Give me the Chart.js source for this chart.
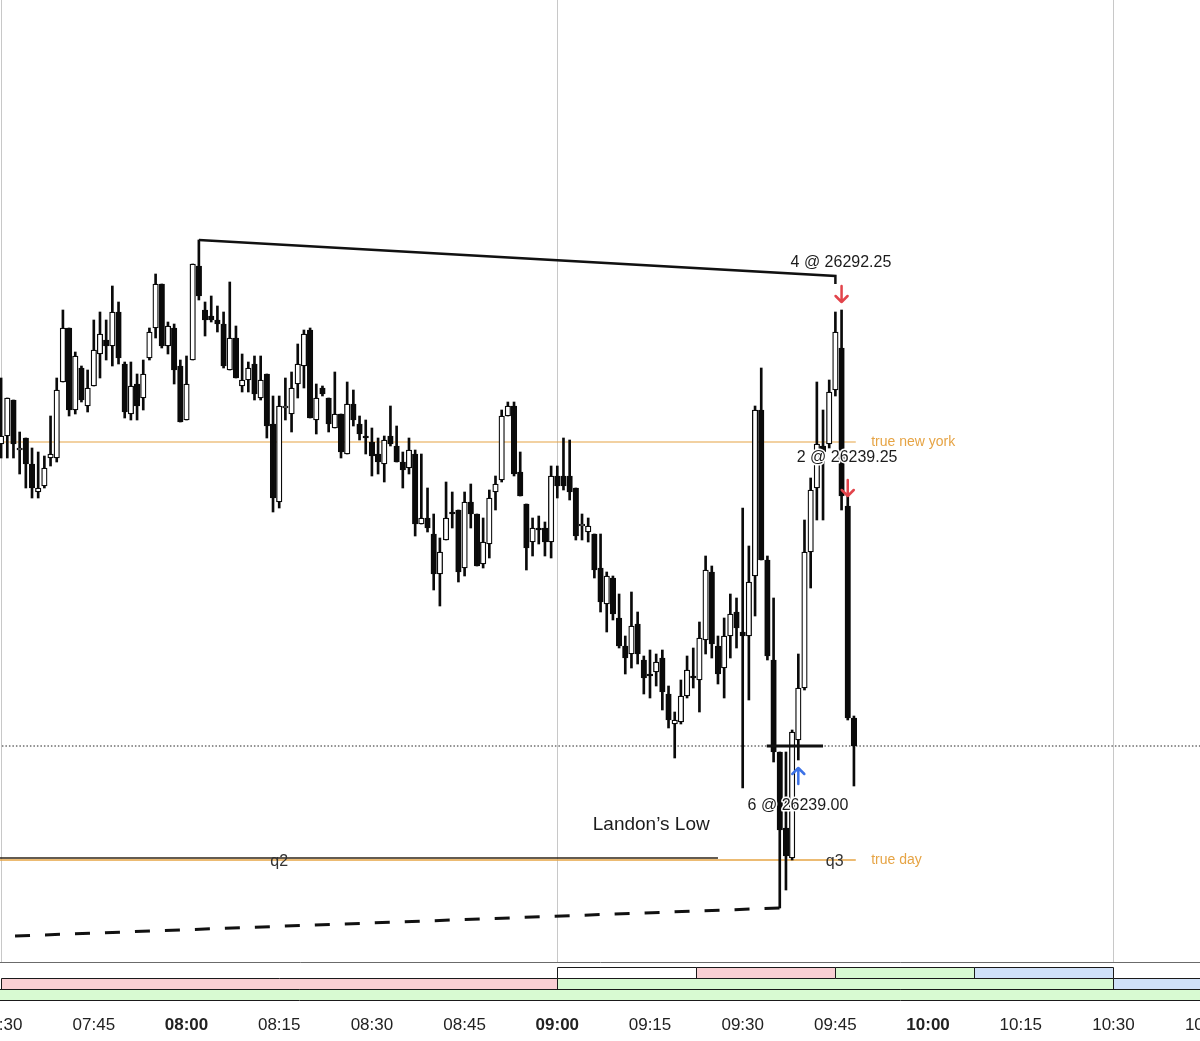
<!DOCTYPE html>
<html>
<head>
<meta charset="utf-8">
<script src="https://cdn.jsdelivr.net/npm/chart.js@4.4.1/dist/chart.umd.min.js"></script>
<style>
  html, body { margin: 0; padding: 0; background: #fff; }
  canvas { display: block; }
</style>
</head>
<body>
<canvas id="chart" width="1200" height="1041"></canvas>
<script>
// 1-minute candles, first one at 07:30 (x value = minutes after 07:30)
const startMinute = 7 * 60 + 30;

const opens = [
  26275.75, 26276.75, 26281.25, 26275.00, 26276.50, 26273.25, 26269.75, 26270.50, 26274.00, 26274.00,
  26283.50, 26290.25, 26280.00, 26285.25, 26280.50, 26283.00, 26287.00, 26288.75, 26288.00, 26292.25,
  26285.75, 26279.50, 26283.25, 26281.50, 26286.50, 26290.25, 26295.75, 26288.00, 26290.25, 26285.50,
  26278.75, 26286.25, 26298.00, 26292.50, 26291.75, 26291.25, 26290.75, 26285.00, 26289.00, 26283.00,
  26283.75, 26285.75, 26281.50, 26284.50, 26278.25, 26268.50, 26280.25, 26279.50, 26283.25, 26285.50,
  26290.00, 26278.75, 26282.75, 26281.50, 26277.75, 26279.50, 26274.50, 26280.75, 26278.25, 26276.75,
  26276.00, 26274.50, 26273.25, 26276.75, 26275.50, 26273.50, 26272.75, 26274.50, 26265.75, 26266.50,
  26264.50, 26259.50, 26263.75, 26267.25, 26267.50, 26260.25, 26268.50, 26267.00, 26260.75, 26263.25,
  26269.75, 26271.25, 26279.25, 26280.50, 26272.25, 26268.25, 26263.50, 26265.25, 26265.25, 26263.50,
  26271.75, 26271.75, 26271.75, 26270.25, 26265.50, 26264.75, 26264.50, 26260.25, 26255.75, 26259.00,
  26254.00, 26250.50, 26249.50, 26253.25, 26248.75, 26247.00, 26247.25, 26249.00, 26244.50, 26240.75,
  26241.00, 26244.25, 26246.75, 26246.25, 26251.25, 26259.75, 26250.50, 26247.75, 26251.75, 26254.75,
  26252.25, 26251.75, 26259.25, 26280.00, 26261.25, 26248.75, 26237.25, 26227.75, 26224.00, 26238.75,
  26245.25, 26262.25, 26270.25, 26275.50, 26275.75, 26282.50, 26287.75, 26268.00, 26241.50
];
const highs = [
  26284.00, 26281.50, 26281.25, 26277.25, 26276.50, 26275.25, 26274.75, 26274.25, 26279.25, 26284.00,
  26292.50, 26290.25, 26287.25, 26285.50, 26285.00, 26291.25, 26292.25, 26291.25, 26295.50, 26293.50,
  26286.00, 26286.00, 26284.50, 26286.25, 26290.25, 26297.00, 26295.75, 26291.00, 26290.75, 26286.25,
  26286.75, 26298.25, 26301.25, 26293.50, 26294.25, 26293.00, 26292.25, 26296.00, 26290.50, 26287.00,
  26286.00, 26286.75, 26286.75, 26284.50, 26281.75, 26281.75, 26284.00, 26284.75, 26288.25, 26290.00,
  26290.25, 26283.25, 26283.00, 26281.50, 26284.75, 26279.50, 26283.50, 26282.50, 26279.25, 26278.75,
  26277.75, 26276.50, 26276.75, 26280.50, 26278.00, 26274.75, 26276.50, 26275.00, 26274.50, 26270.25,
  26267.00, 26264.00, 26271.00, 26269.75, 26267.50, 26269.75, 26270.75, 26267.00, 26266.50, 26270.00,
  26271.75, 26280.00, 26281.00, 26281.00, 26274.75, 26268.25, 26266.50, 26266.75, 26266.00, 26273.00,
  26273.00, 26276.50, 26276.25, 26270.25, 26267.00, 26266.50, 26264.50, 26264.50, 26259.75, 26259.25,
  26257.00, 26251.75, 26257.25, 26254.75, 26249.25, 26250.00, 26249.50, 26250.00, 26245.50, 26242.25,
  26246.25, 26249.25, 26250.25, 26253.50, 26261.75, 26260.50, 26251.75, 26254.00, 26257.00, 26256.50,
  26267.75, 26263.00, 26280.50, 26285.25, 26261.75, 26256.50, 26237.25, 26237.25, 26240.00, 26249.50,
  26266.25, 26271.50, 26283.50, 26280.00, 26283.75, 26292.25, 26292.50, 26269.25, 26241.75
];
const lows = [
  26274.00, 26274.00, 26274.00, 26272.00, 26270.25, 26269.00, 26269.00, 26270.25, 26273.00, 26273.50,
  26283.50, 26279.25, 26279.50, 26281.00, 26279.75, 26283.00, 26284.00, 26286.25, 26285.50, 26285.75,
  26279.00, 26278.75, 26278.75, 26280.00, 26286.25, 26289.00, 26287.75, 26287.00, 26283.25, 26278.50,
  26278.75, 26286.25, 26293.75, 26289.25, 26291.00, 26289.75, 26285.25, 26285.00, 26284.00, 26282.25,
  26282.25, 26281.25, 26281.25, 26276.50, 26267.25, 26267.75, 26278.75, 26277.25, 26281.50, 26282.75,
  26279.00, 26277.00, 26281.75, 26277.25, 26277.75, 26274.00, 26274.50, 26278.00, 26276.25, 26274.50,
  26271.75, 26272.00, 26271.00, 26275.50, 26273.50, 26270.25, 26272.00, 26264.25, 26265.75, 26264.75,
  26257.50, 26255.50, 26263.75, 26265.25, 26258.50, 26259.25, 26265.25, 26260.50, 26260.25, 26261.50,
  26267.50, 26271.00, 26279.25, 26271.75, 26269.25, 26260.00, 26261.75, 26263.25, 26261.75, 26261.50,
  26269.00, 26270.00, 26268.75, 26263.75, 26263.75, 26263.50, 26259.00, 26254.75, 26252.25, 26253.75,
  26250.25, 26247.00, 26247.75, 26248.25, 26244.50, 26244.00, 26245.50, 26242.50, 26240.25, 26236.50,
  26240.75, 26244.00, 26245.25, 26242.25, 26249.50, 26249.00, 26245.75, 26244.00, 26249.00, 26250.25,
  26232.75, 26243.75, 26254.25, 26261.25, 26248.75, 26236.00, 26217.75, 26220.00, 26223.75, 26236.25,
  26245.00, 26257.75, 26266.25, 26266.25, 26275.25, 26281.75, 26267.50, 26241.25, 26233.00
];
const closes = [
  26276.75, 26281.50, 26275.75, 26275.25, 26273.25, 26270.25, 26270.25, 26272.75, 26274.50, 26282.50,
  26290.25, 26280.00, 26286.75, 26281.25, 26282.75, 26287.50, 26289.50, 26288.00, 26292.25, 26286.50,
  26279.75, 26283.00, 26280.50, 26284.50, 26289.75, 26295.75, 26288.00, 26290.50, 26285.00, 26278.50,
  26283.25, 26298.25, 26294.25, 26291.25, 26291.25, 26290.75, 26285.50, 26289.00, 26284.00, 26283.75,
  26285.25, 26282.00, 26283.75, 26278.00, 26269.00, 26280.50, 26280.50, 26282.75, 26285.75, 26289.50,
  26279.00, 26281.50, 26282.00, 26278.25, 26279.50, 26274.75, 26280.75, 26278.75, 26277.00, 26276.50,
  26274.25, 26273.50, 26276.25, 26275.75, 26273.50, 26272.50, 26275.00, 26265.75, 26266.50, 26265.25,
  26259.50, 26262.25, 26266.50, 26267.00, 26259.75, 26268.50, 26267.00, 26260.50, 26263.50, 26269.00,
  26270.75, 26279.25, 26280.50, 26272.00, 26269.25, 26262.75, 26265.25, 26265.00, 26263.50, 26271.75,
  26270.50, 26270.50, 26269.75, 26264.25, 26265.75, 26265.50, 26260.00, 26256.00, 26259.25, 26254.50,
  26250.50, 26249.00, 26253.00, 26249.50, 26246.50, 26246.75, 26248.50, 26244.75, 26241.25, 26241.25,
  26244.25, 26247.50, 26246.50, 26251.50, 26260.00, 26250.75, 26247.00, 26251.75, 26254.50, 26252.75,
  26251.75, 26258.50, 26280.00, 26261.25, 26249.25, 26237.25, 26227.50, 26224.25, 26239.75, 26245.25,
  26262.25, 26270.00, 26275.75, 26274.75, 26282.25, 26289.75, 26269.25, 26241.50, 26238.00
];

// axis ticks, every 15 minutes (minutes after 07:30)
const tickMinutes = [0, 15, 30, 45, 60, 75, 90, 105, 120, 135, 150, 165, 180, 195];

// drawn levels
const trueNewYork = 26276.00;
const trueDay = 26223.75;
const q2Level = 26224.00;
const lastPrice = 26238.00;
const trendTimes = [32, 135, 135];
const trendPrices = [26301.25, 26296.75, 26295.75];
const lowLinkTimes = [2.25, 126];
const lowLinkPrices = [26214.25, 26217.75];

// trade marks
const fills = [
  { t: 136, p: 26294.50, dir: 1, color: '#e2444b' },
  { t: 137, p: 26270.25, dir: 1, color: '#e2444b' },
  { t: 129, p: 26234.25, dir: -1, color: '#3d72e6' }
];

// session / quarter strips under the plot (minutes after 07:30)
const PINK = '#f9cfd3', GREEN = '#d8fad2', BLUE = '#d0e1f8', WHITE = '#ffffff';
const quarterRow = [[90, 112.5, WHITE], [112.5, 135, PINK], [135, 157.5, GREEN], [157.5, 180, BLUE]];
const cycleRow = [[0, 90, PINK], [90, 180, GREEN], [180, 270, BLUE]];
const dayRow = [[-90, 270, GREEN]];

const xMin = -0.18, xMax = 194.0;
const priceMax = 26331.25, priceMin = 26211.0;
const ORANGE = '#e6a445';
const FONT = "'Liberation Sans', 'Helvetica Neue', Arial, sans-serif";

function fmtTime(v) {
  const t = startMinute + v;
  return String(Math.floor(t / 60)).padStart(2, '0') + ':' + String(t % 60).padStart(2, '0');
}

const idx = opens.map((_, i) => i);
const wicks = idx.map(i => ({ x: i, y: [lows[i], highs[i]] }));
const bodies = idx.map(i => ({ x: i, y: [opens[i], closes[i]] }));
const bodyFill = idx.map(i => closes[i] >= opens[i] ? '#ffffff' : '#0a0a0a');

function flat(price, from, to) {
  return [{ x: from, y: price }, { x: to, y: price }];
}

function textAt(ctx, txt, px, py, size, color, align, halo) {
  ctx.font = size + 'px ' + FONT;
  ctx.textAlign = align;
  ctx.textBaseline = 'middle';
  if (halo) {
    ctx.lineWidth = 3;
    ctx.lineJoin = 'round';
    ctx.strokeStyle = '#ffffff';
    ctx.strokeText(txt, px, py);
  }
  ctx.fillStyle = color;
  ctx.fillText(txt, px, py);
}

function drawArrow(ctx, px, py, dir, color) {
  const h = 8, w = 6;
  ctx.save();
  ctx.strokeStyle = color;
  ctx.lineWidth = 2.5;
  ctx.lineCap = 'round';
  ctx.lineJoin = 'round';
  ctx.beginPath();
  ctx.moveTo(px, py - dir * h);
  ctx.lineTo(px, py + dir * h);
  ctx.moveTo(px - w, py + dir * (h - w));
  ctx.lineTo(px, py + dir * h);
  ctx.lineTo(px + w, py + dir * (h - w));
  ctx.stroke();
  ctx.restore();
}

const overlay = {
  id: 'overlay',
  afterDatasetsDraw(chart) {
    const ctx = chart.ctx;
    const x = chart.scales.x, y = chart.scales.y;
    const X = t => x.getPixelForValue(t), Y = p => y.getPixelForValue(p);

    fills.forEach(f => drawArrow(ctx, X(f.t), Y(f.p), f.dir, f.color));

    textAt(ctx, '4 @ 26292.25', X(135.9), Y(26298.375), 16, '#1c1c1c', 'center', true);
    textAt(ctx, '2 @ 26239.25', X(136.9), Y(26274.0), 16, '#1c1c1c', 'center', true);
    textAt(ctx, '6 @ 26239.00', X(128.95), Y(26230.5), 16, '#1c1c1c', 'center', true);
    textAt(ctx, 'Landon\u2019s Low', X(105.2), Y(26228.125), 19, '#1c1c1c', 'center', false);
    textAt(ctx, 'q2', X(45), Y(26223.5), 16, '#333333', 'center', false);
    textAt(ctx, 'q3', X(134.9), Y(26223.5), 16, '#333333', 'center', false);
    textAt(ctx, 'true new york', X(140.8), Y(trueNewYork), 14, ORANGE, 'left', false);
    textAt(ctx, 'true day', X(140.8), Y(trueDay), 14, ORANGE, 'left', false);
  },
  afterDraw(chart) {
    const ctx = chart.ctx;
    const x = chart.scales.x;
    const top = chart.chartArea.bottom + 5;
    const rowH = 11;
    ctx.save();
    ctx.strokeStyle = '#1a1a1a';
    ctx.lineWidth = 1;
    [quarterRow, cycleRow, dayRow].forEach((row, r) => {
      const y0 = Math.round(top + r * rowH) + 0.5;
      row.forEach(([a, b, color]) => {
        const xa = Math.round(x.getPixelForValue(a)) + 0.5;
        const xb = Math.round(x.getPixelForValue(b)) + 0.5;
        ctx.fillStyle = color;
        ctx.fillRect(xa, y0, xb - xa, rowH);
        ctx.strokeRect(xa, y0, xb - xa, rowH);
      });
    });
    ctx.restore();
  }
};

new Chart(document.getElementById('chart'), {
  type: 'bar',
  data: {
    datasets: [
      {
        type: 'line', data: flat(trueNewYork, -1, 138.3), borderColor: ORANGE,
        borderWidth: 1.2, pointRadius: 0, order: 20
      },
      {
        type: 'line', data: flat(trueDay, -1, 138.3), borderColor: ORANGE,
        borderWidth: 1.5, pointRadius: 0, order: 20
      },
      {
        type: 'line', data: flat(q2Level, -1, 116), borderColor: '#2e2418',
        borderWidth: 1.6, pointRadius: 0, order: 19
      },
      {
        type: 'line', data: flat(lastPrice, -1, 200), borderColor: '#222222',
        borderWidth: 1, borderDash: [1.5, 2], pointRadius: 0, order: 18
      },
      {
        type: 'line', data: lowLinkTimes.map((t, i) => ({ x: t, y: lowLinkPrices[i] })),
        borderColor: '#111111', borderWidth: 3, borderDash: [15, 15], pointRadius: 0, order: 18
      },
      {
        label: 'wicks', data: wicks, backgroundColor: '#0a0a0a', borderWidth: 0,
        barThickness: 2, grouped: false, order: 10
      },
      {
        label: 'bodies', data: bodies, backgroundColor: bodyFill, borderColor: '#0a0a0a',
        borderWidth: 1.3, borderSkipped: false, barThickness: 5.5, minBarLength: 2,
        grouped: false, order: 9
      },
      {
        type: 'line', data: flat(lastPrice, 123.9, 133), borderColor: '#111111',
        borderWidth: 3, pointRadius: 0, order: 2
      },
      {
        type: 'line', data: trendTimes.map((t, i) => ({ x: t, y: trendPrices[i] })),
        borderColor: '#111111', borderWidth: 2.5, pointRadius: 0, order: 1
      }
    ]
  },
  options: {
    responsive: false,
    animation: false,
    devicePixelRatio: 1,
    layout: { padding: 0 },
    plugins: { legend: { display: false }, tooltip: { enabled: false } },
    scales: {
      x: {
        type: 'linear',
        min: xMin,
        max: xMax,
        offset: false,
        grid: {
          offset: false,
          drawTicks: false,
          lineWidth: 1,
          color: c => (c.tick && c.tick.value % 90 === 0) ? '#c8c8c8' : 'rgba(0,0,0,0)'
        },
        border: { display: true, color: '#6b6b6b', width: 1 },
        ticks: {
          autoSkip: false,
          maxRotation: 0,
          padding: 53,
          color: '#222222',
          font: c => ({ family: FONT, size: 17, weight: (c.tick && c.tick.value % 60 === 30) ? 'bold' : 'normal' }),
          callback: v => fmtTime(v)
        },
        afterBuildTicks: axis => { axis.ticks = tickMinutes.map(v => ({ value: v })); },
        afterFit: axis => { axis.height = 79; axis.paddingLeft = 0; axis.paddingRight = 0; }
      },
      y: { display: false, min: priceMin, max: priceMax }
    }
  },
  plugins: [overlay]
});
</script>
</body>
</html>
